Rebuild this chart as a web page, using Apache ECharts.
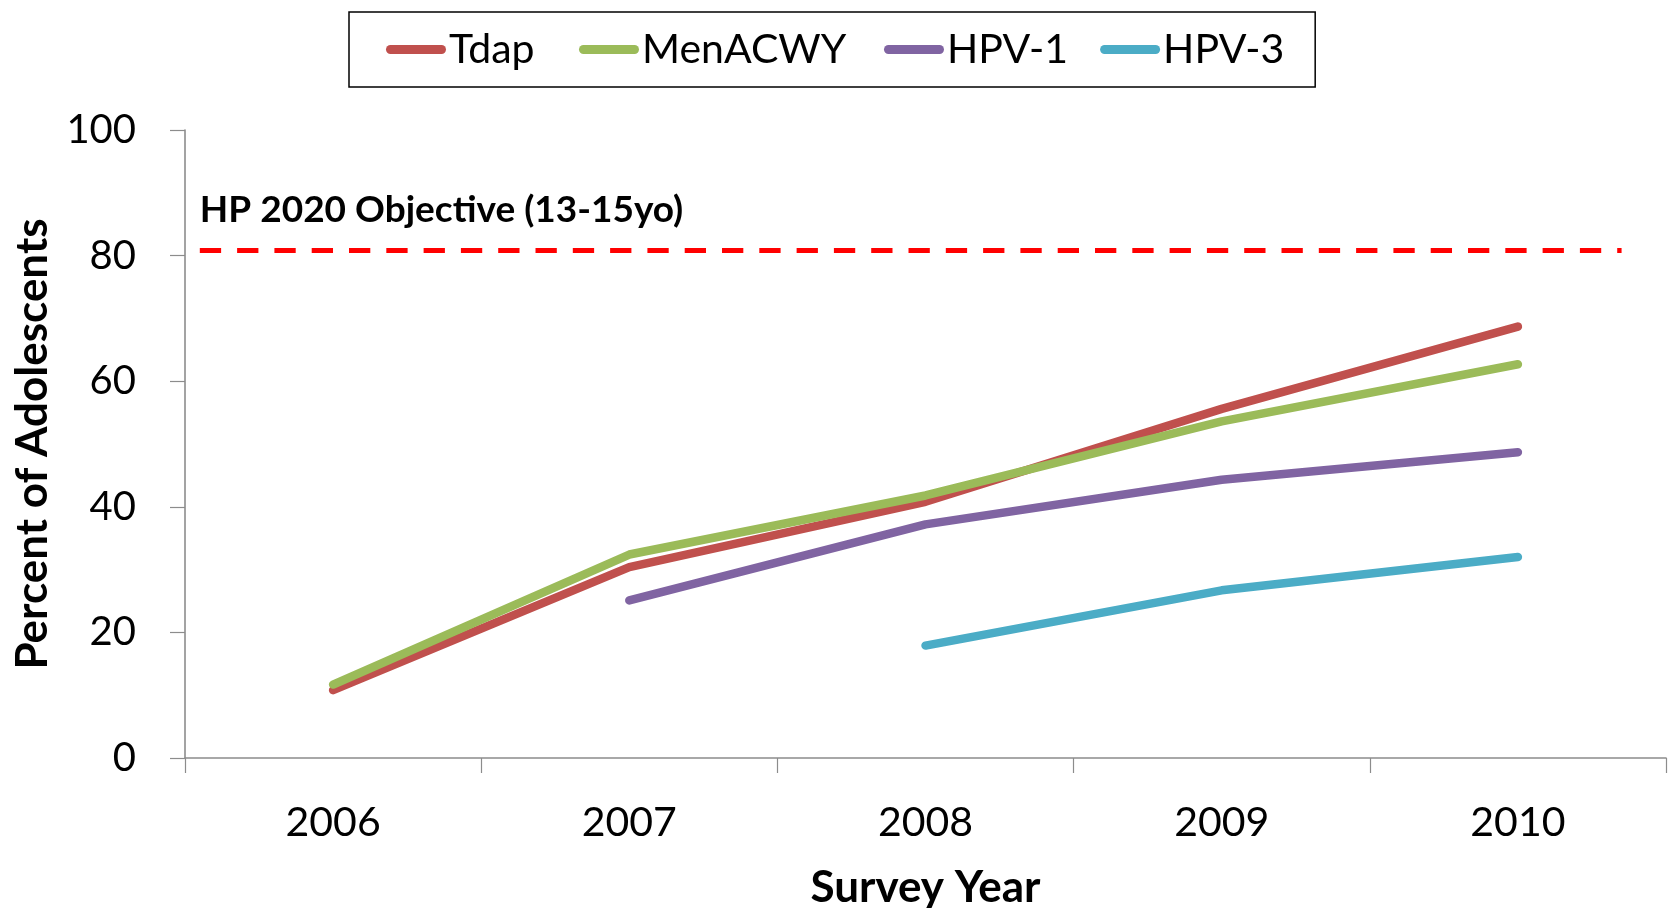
<!DOCTYPE html>
<html>
<head>
<meta charset="utf-8">
<script src="https://cdn.jsdelivr.net/npm/echarts@6/dist/echarts.min.js"></script>
<style>
html,body{margin:0;padding:0;background:#fff;}
#chart{width:1669px;height:908px;}
</style>
</head>
<body>
<div id="chart"></div>
<script>
const categories = ['2006', '2007', '2008', '2009', '2010'];
const tdap = [10.8, 30.4, 40.8, 55.6, 68.7];
const menacwy = [11.7, 32.4, 41.8, 53.6, 62.7];
const hpv1 = [null, 25.1, 37.2, 44.3, 48.7];
const hpv3 = [null, null, 17.9, 26.7, 32.0];
const seriesNames = ['Tdap', 'MenACWY', 'HPV-1', 'HPV-3'];
const seriesColors = ['#C0504D', '#9BBB59', '#8064A2', '#4BACC6'];
const objectiveValue = 80.8;
const objectiveSpan = [-0.45, 4.35];
const objectiveLabel = 'HP 2020 Objective (13-15yo)';
const yTicks = [0, 20, 40, 60, 80, 100];

const FONT = 'Lato';
const chart = echarts.init(document.getElementById('chart'));

const dataSets = [tdap, menacwy, hpv1, hpv3];
const lineSeries = seriesNames.map((n, i) => ({
  name: n,
  type: 'line',
  data: dataSets[i],
  symbol: 'none',
  smooth: false,
  connectNulls: false,
  lineStyle: { color: seriesColors[i], width: 8.5, cap: 'round', join: 'round' },
  itemStyle: { color: seriesColors[i] },
  z: 3 + i
}));

const capsule = 'path://M4.5,0 L55.5,0 A4.5,4.5 0 0 1 55.5,9 L4.5,9 A4.5,4.5 0 0 1 4.5,0 Z';
// legend text box widths (style only)
const legendTextBoxW = [98, 210, 100, 117];
const legendRich = {};
legendTextBoxW.forEach((w, i) => {
  legendRich['s' + i] = { width: w, fontFamily: FONT, fontSize: 41, color: '#000', backgroundColor: 'rgba(255,255,255,0)' };
});

chart.setOption({
  animation: false,
  backgroundColor: '#fff',
  legend: {
    data: seriesNames.map(n => ({ name: n, icon: capsule })),
    formatter: name => '{s' + seriesNames.indexOf(name) + '|' + name + '}',
    left: 349,
    top: 12,
    orient: 'horizontal',
    itemWidth: 60,
    itemHeight: 9,
    itemGap: 32,
    padding: [17, 31, 17, 37],
    borderColor: '#000',
    borderWidth: 1.5,
    textStyle: { fontFamily: FONT, fontSize: 41, color: '#000', padding: [0, 0, 0, -2], rich: legendRich }
  },
  grid: { left: 185, right: 3, top: 130, bottom: 150, containLabel: false, outerBoundsMode: 'none' },
  xAxis: [{
    type: 'category',
    data: categories,
    boundaryGap: true,
    axisLine: { lineStyle: { color: '#8c8c8c', width: 1.6 } },
    axisTick: { show: true, length: 15, alignWithLabel: false, lineStyle: { color: '#8c8c8c', width: 1.2 } },
    axisLabel: { fontFamily: FONT, fontSize: 41, color: '#000', margin: 44 },
    splitLine: { show: false },
    name: 'Survey Year',
    nameLocation: 'middle',
    nameGap: 108,
    nameTextStyle: { fontFamily: FONT, fontSize: 44, fontWeight: 'bold', color: '#000' }
  }, {
    type: 'value',
    min: -0.5,
    max: 4.5,
    show: false
  }],
  yAxis: {
    type: 'value',
    min: yTicks[0],
    max: yTicks[yTicks.length - 1],
    interval: 20,
    axisLine: { show: true, onZero: false, lineStyle: { color: '#8c8c8c', width: 1.6 } },
    axisTick: { show: true, length: 15, lineStyle: { color: '#8c8c8c', width: 1.2 } },
    axisLabel: { fontFamily: FONT, fontSize: 40, color: '#000', margin: 49 },
    splitLine: { show: false },
    name: 'Percent of Adolescents',
    nameLocation: 'middle',
    nameGap: 130,
    nameRotate: 90,
    nameTextStyle: { fontFamily: FONT, fontSize: 44, fontWeight: 'bold', color: '#000' }
  },
  series: lineSeries.concat([{
    name: 'objective',
    type: 'line',
    xAxisIndex: 1,
    yAxisIndex: 0,
    data: [],
    symbol: 'none',
    silent: true,
    z: 2,
    markLine: {
      silent: true,
      symbol: 'none',
      animation: false,
      lineStyle: { color: '#FF0000', width: 5, type: [21.3, 16] },
      label: {
        show: true,
        position: 'insideStartTop',
        formatter: objectiveLabel,
        fontFamily: FONT,
        fontSize: 37,
        fontWeight: 'bold',
        color: '#000',
        distance: [0, 22.5]
      },
      emphasis: { disabled: true },
      data: [[{ coord: [objectiveSpan[0], objectiveValue] }, { coord: [objectiveSpan[1], objectiveValue] }]]
    }
  }])
});
</script>
</body>
</html>
